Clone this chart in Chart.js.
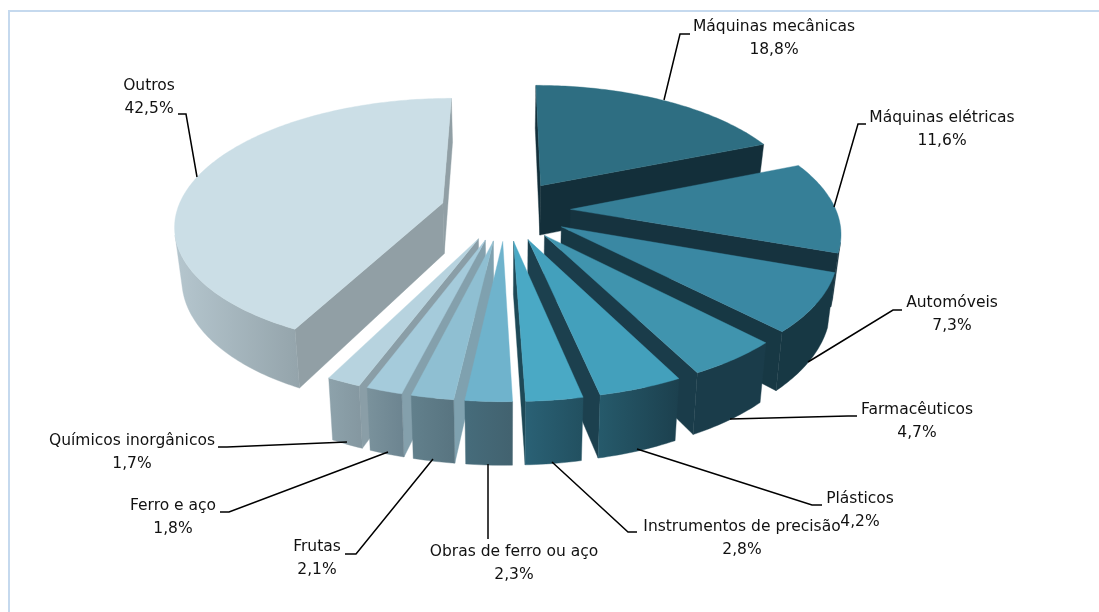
<!DOCTYPE html>
<html><head><meta charset="utf-8">
<style>html,body{margin:0;padding:0;background:#fff;overflow:hidden}canvas{display:block}</style>
<script src="https://cdn.jsdelivr.net/npm/chart.js@4"></script></head>
<body><canvas id="c" width="1099" height="612"></canvas>
<script>
const categories=["Máquinas mecânicas","Máquinas elétricas","Automóveis","Farmacêuticos","Plásticos","Instrumentos de precisão","Obras de ferro ou aço","Frutas","Ferro e aço","Químicos inorgânicos","Outros"];
const shares=[18.8,11.6,7.3,4.7,4.2,2.8,2.3,2.1,1.8,1.7,42.5];
const shareLabels=["18,8%","11,6%","7,3%","4,7%","4,2%","2,8%","2,3%","2,1%","1,8%","1,7%","42,5%"];
const topColors=["#2E6E82","#367F97","#3A88A3","#4094AE","#43A0BC","#4AA9C5","#6FB3CC","#8FBFD2","#A5CBDB","#B7D3DF","#CBDEE6"];
const sideColors=["#132F3A","#16333F","#173844","#1A3C4A","#1C404E","#1E4957","#7AA2B2","#7FA1AF","#84A0AC","#8A9EA7","#919FA5"];
const arcLeft=["#132F3A","#16333F","#173844","#1A3C4A","#265A6B","#2A6175","#466C7B","#62808C","#7A929C","#8DA2AB","#B5C6CE"];
const arcRight=["#132F3A","#16333F","#173844","#1A3C4A","#1C404E","#225060","#42626F","#587480","#6C8490","#8497A0","#94A4AB"];
const labelCenters=[[774,27],[942,118],[952,303],[917,410],[860,499],[742,527],[514,552],[317,547],[173,506],[132,441],[149,86]];
const leaders=[[[664,100],[680,34],[690,34]],[[834,207],[858,124],[866,124]],[[808,362],[893,310],[902,310]],[[730,419],[848,416],[857,416]],[[637,449],[812,505],[822,505]],[[552,462],[628,532],[637,532]],[[488,464],[488,539]],[[433,459],[356,554],[345,554]],[[388,452],[229,512],[220,512]],[[347,442],[227,447],[218,447]],[[197,177],[186,114],[178,114]]];
const VIEW={X0:505.5,Y0:210,R:265.5,k:.465,p:.0006,H:51,taper:.022,explode:65};
function proj(wx,wy,z){const f=1/(1+VIEW.p*wy);return [VIEW.X0+wx*f*(1-z*VIEW.taper),VIEW.Y0-wy*VIEW.k*f+z*VIEW.H*f];}
function area(q){let a=0;for(let i=0;i<q.length;i++){const b=q[(i+1)%q.length];a+=q[i][0]*b[1]-b[0]*q[i][1];}return a;}
function fillPoly(ctx,pts,style){ctx.beginPath();pts.forEach((p,i)=>i?ctx.lineTo(p[0],p[1]):ctx.moveTo(p[0],p[1]));ctx.closePath();ctx.fillStyle=style;ctx.fill();ctx.strokeStyle=style;ctx.lineWidth=.4;ctx.stroke();}
const pie3d={id:'pie3d',
 beforeDatasetDraw(chart,args){
  const ctx=chart.ctx,arcs=chart.getDatasetMeta(args.index).data;
  const order=arcs.map((a,i)=>i).sort((i,j)=>{const m=a=>(a.startAngle+a.endAngle)/2;return Math.sin(m(arcs[i]))-Math.sin(m(arcs[j]));});
  order.forEach(i=>{
   const a=arcs[i],s=VIEW.R/a.outerRadius,mid=(a.startAngle+a.endAngle)/2,cx=VIEW.explode*Math.cos(mid),cy=-VIEW.explode*Math.sin(mid);
   const n=Math.max(8,Math.ceil((a.endAngle-a.startAngle)*60));
   const rim=[];for(let t=0;t<=n;t++){const an=a.startAngle+(a.endAngle-a.startAngle)*t/n;rim.push([cx+a.outerRadius*s*Math.cos(an),cy-a.outerRadius*s*Math.sin(an)]);}
   const T=w=>proj(w[0],w[1],0),B=w=>proj(w[0],w[1],1),apex=[cx,cy];
   [[apex,rim[0]],[rim[n],apex]].forEach(e=>{const q=[T(e[0]),T(e[1]),B(e[1]),B(e[0])];if(area(q)<0)fillPoly(ctx,q,sideColors[i]);});
   let run=[];const flush=()=>{if(run.length>1){const top=run.map(T),bot=run.map(B).reverse(),poly=top.concat(bot),xs=poly.map(p=>p[0]);const g=ctx.createLinearGradient(Math.min(...xs),0,Math.max(...xs),0);g.addColorStop(0,arcLeft[i]);g.addColorStop(1,arcRight[i]);fillPoly(ctx,poly,g);}run=[];};
   for(let t=0;t<n;t++){const q=[T(rim[t]),T(rim[t+1]),B(rim[t+1]),B(rim[t])];if(area(q)<0){if(!run.length)run.push(rim[t]);run.push(rim[t+1]);}else flush();}
   flush();
   fillPoly(ctx,[T(apex)].concat(rim.map(T)),topColors[i]);
  });
  return false;
 },
 afterDatasetsDraw(chart){
  const ctx=chart.ctx;ctx.save();
  ctx.fillStyle='#C5D9EE';ctx.fillRect(8,10,1091,2);ctx.fillRect(8,10,2,602);
  ctx.strokeStyle='#000';ctx.lineWidth=1.5;
  leaders.forEach(l=>{ctx.beginPath();l.forEach((p,i)=>i?ctx.lineTo(p[0],p[1]):ctx.moveTo(p[0],p[1]));ctx.stroke();});
  ctx.font='15.5px "DejaVu Sans"';ctx.textAlign='center';ctx.textBaseline='middle';ctx.fillStyle='#111';
  chart.data.labels.forEach((t,i)=>{const c=labelCenters[i];ctx.fillText(t,c[0],c[1]);ctx.fillText(shareLabels[i],c[0],c[1]+22.5);});
  ctx.restore();
 }};
new Chart(document.getElementById('c'),{type:'pie',plugins:[pie3d],
 data:{labels:categories,datasets:[{data:shares,backgroundColor:topColors,offset:40,borderWidth:0}]},
 options:{responsive:false,animation:false,rotation:0,plugins:{legend:{display:false},tooltip:{enabled:false}}}});
</script></body></html>
